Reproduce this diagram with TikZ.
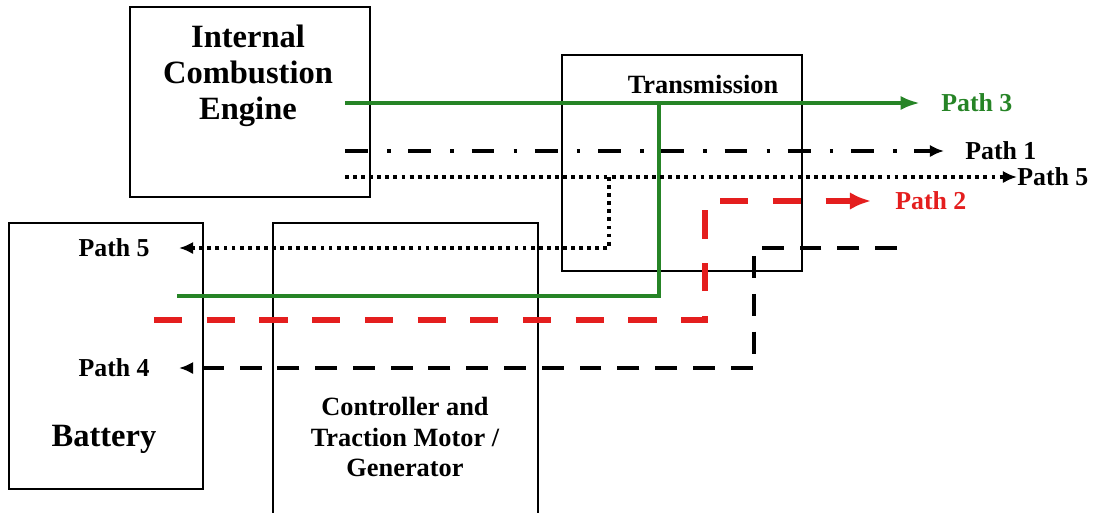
\documentclass[tikz,border=0pt]{standalone}
\usepackage{fontspec}
\setmainfont{Liberation Serif}
\usetikzlibrary{arrows.meta,positioning}
\definecolor{pathgreen}{RGB}{38,132,38}
\definecolor{pathred}{RGB}{228,30,30}
\tikzset{>={Latex[length=8pt,width=7pt]}}
\tikzset{
  unit/.style={draw, line width=0.8pt, inner sep=0pt},
  bigtext/.style={font=\fontsize{18.5}{20.5}\selectfont\bfseries, align=center},
  smalltext/.style={font=\fontsize{15}{17.4}\selectfont\bfseries, align=center},
  pathlabel/.style={font=\fontsize{14.7}{17}\selectfont\bfseries, inner sep=0pt},
  greenpath/.style={draw=pathgreen, line width=2.2pt,
    >={Latex[length=11pt,width=8pt]}},
  dashdotpath/.style={line width=2.4pt,
    dash pattern=on 13pt off 11pt on 2pt off 10pt},
  dotpath/.style={line width=2.2pt, dash pattern=on 2.2pt off 2.4pt},
  redpath/.style={draw=pathred, line width=3.4pt,
    dash pattern=on 16pt off 14pt, >={Latex[length=12pt,width=10pt]}},
  blackdashed/.style={line width=2.4pt, dash pattern=on 12.5pt off 9pt},
}
\begin{document}
\begin{tikzpicture}[x=0.02cm, y=-0.02cm]
  \clip (0,0) rectangle (1094,512);
  \fill[white] (0,0) rectangle (1094,512);
  % boxes
  \node[unit, minimum width=4.8cm, minimum height=3.8cm] (ice) at (250,102) {};
  \node[unit, minimum width=4.8cm, minimum height=4.32cm] (trans) at (682,163) {};
  \node[unit, minimum width=3.88cm, minimum height=5.32cm] (batt) at (106,356) {};
  \node[unit, minimum width=5.3cm, minimum height=6.1cm] (ctrl) at (405.5,375.5) {};
  \node[bigtext] (ice text) at (248,76) {Internal\\Combustion\\Engine};
  \node[smalltext] (trans text) at (703,84) {Transmission};
  \node[bigtext] (batt text) at (104,439) {Battery};
  \node[smalltext] (ctrl text) at (405,437) {Controller and\\Traction Motor /\\Generator};
  % labels
  \node[pathlabel, text=pathgreen, anchor=west] (p3) at (941,103) {Path 3};
  \node[pathlabel, anchor=west] (p1) at (965,151) {Path 1};
  \node[pathlabel, anchor=west] (p5r) at (1017,177) {Path 5};
  \node[pathlabel, text=pathred, anchor=west] (p2) at (895,201) {Path 2};
  \node[pathlabel, anchor=east] (p5l) at (150,248) {Path 5};
  \node[pathlabel, anchor=east] (p4) at (150,368) {Path 4};
  % free ends
  \coordinate (ice3) at (345,103);
  \coordinate (ice1) at (345,151);
  \coordinate (ice5) at (345,177);
  \coordinate (gsplit) at (659,103);
  \coordinate (gend) at (177,296);
  \coordinate (dsplit) at (609,177);
  \coordinate (rstart) at (154,320);
  \coordinate (rbend) at (705,201);
  \coordinate (bstart) at (897,248);
  \coordinate (bbend) at (754,368);
  % paths
  \draw[greenpath, ->, shorten >=0.42cm] (ice3) -- (p3.west);
  \draw[greenpath] (gsplit) |- (gend);
  \draw[dashdotpath, ->, shorten >=0.42cm] (ice1) -- (p1.west);
  \draw[dotpath, ->] (ice5) -- (p5r.west);
  \draw[dotpath, ->, shorten >=0.58cm] (dsplit) |- (p5l.east);
  \draw[redpath, ->, shorten >=0.48cm] (rstart) -| (rbend) -- (p2.west);
  \draw[blackdashed, ->, shorten >=0.58cm] (bstart) -| (bbend) -- (p4.east);
\end{tikzpicture}
\end{document}
